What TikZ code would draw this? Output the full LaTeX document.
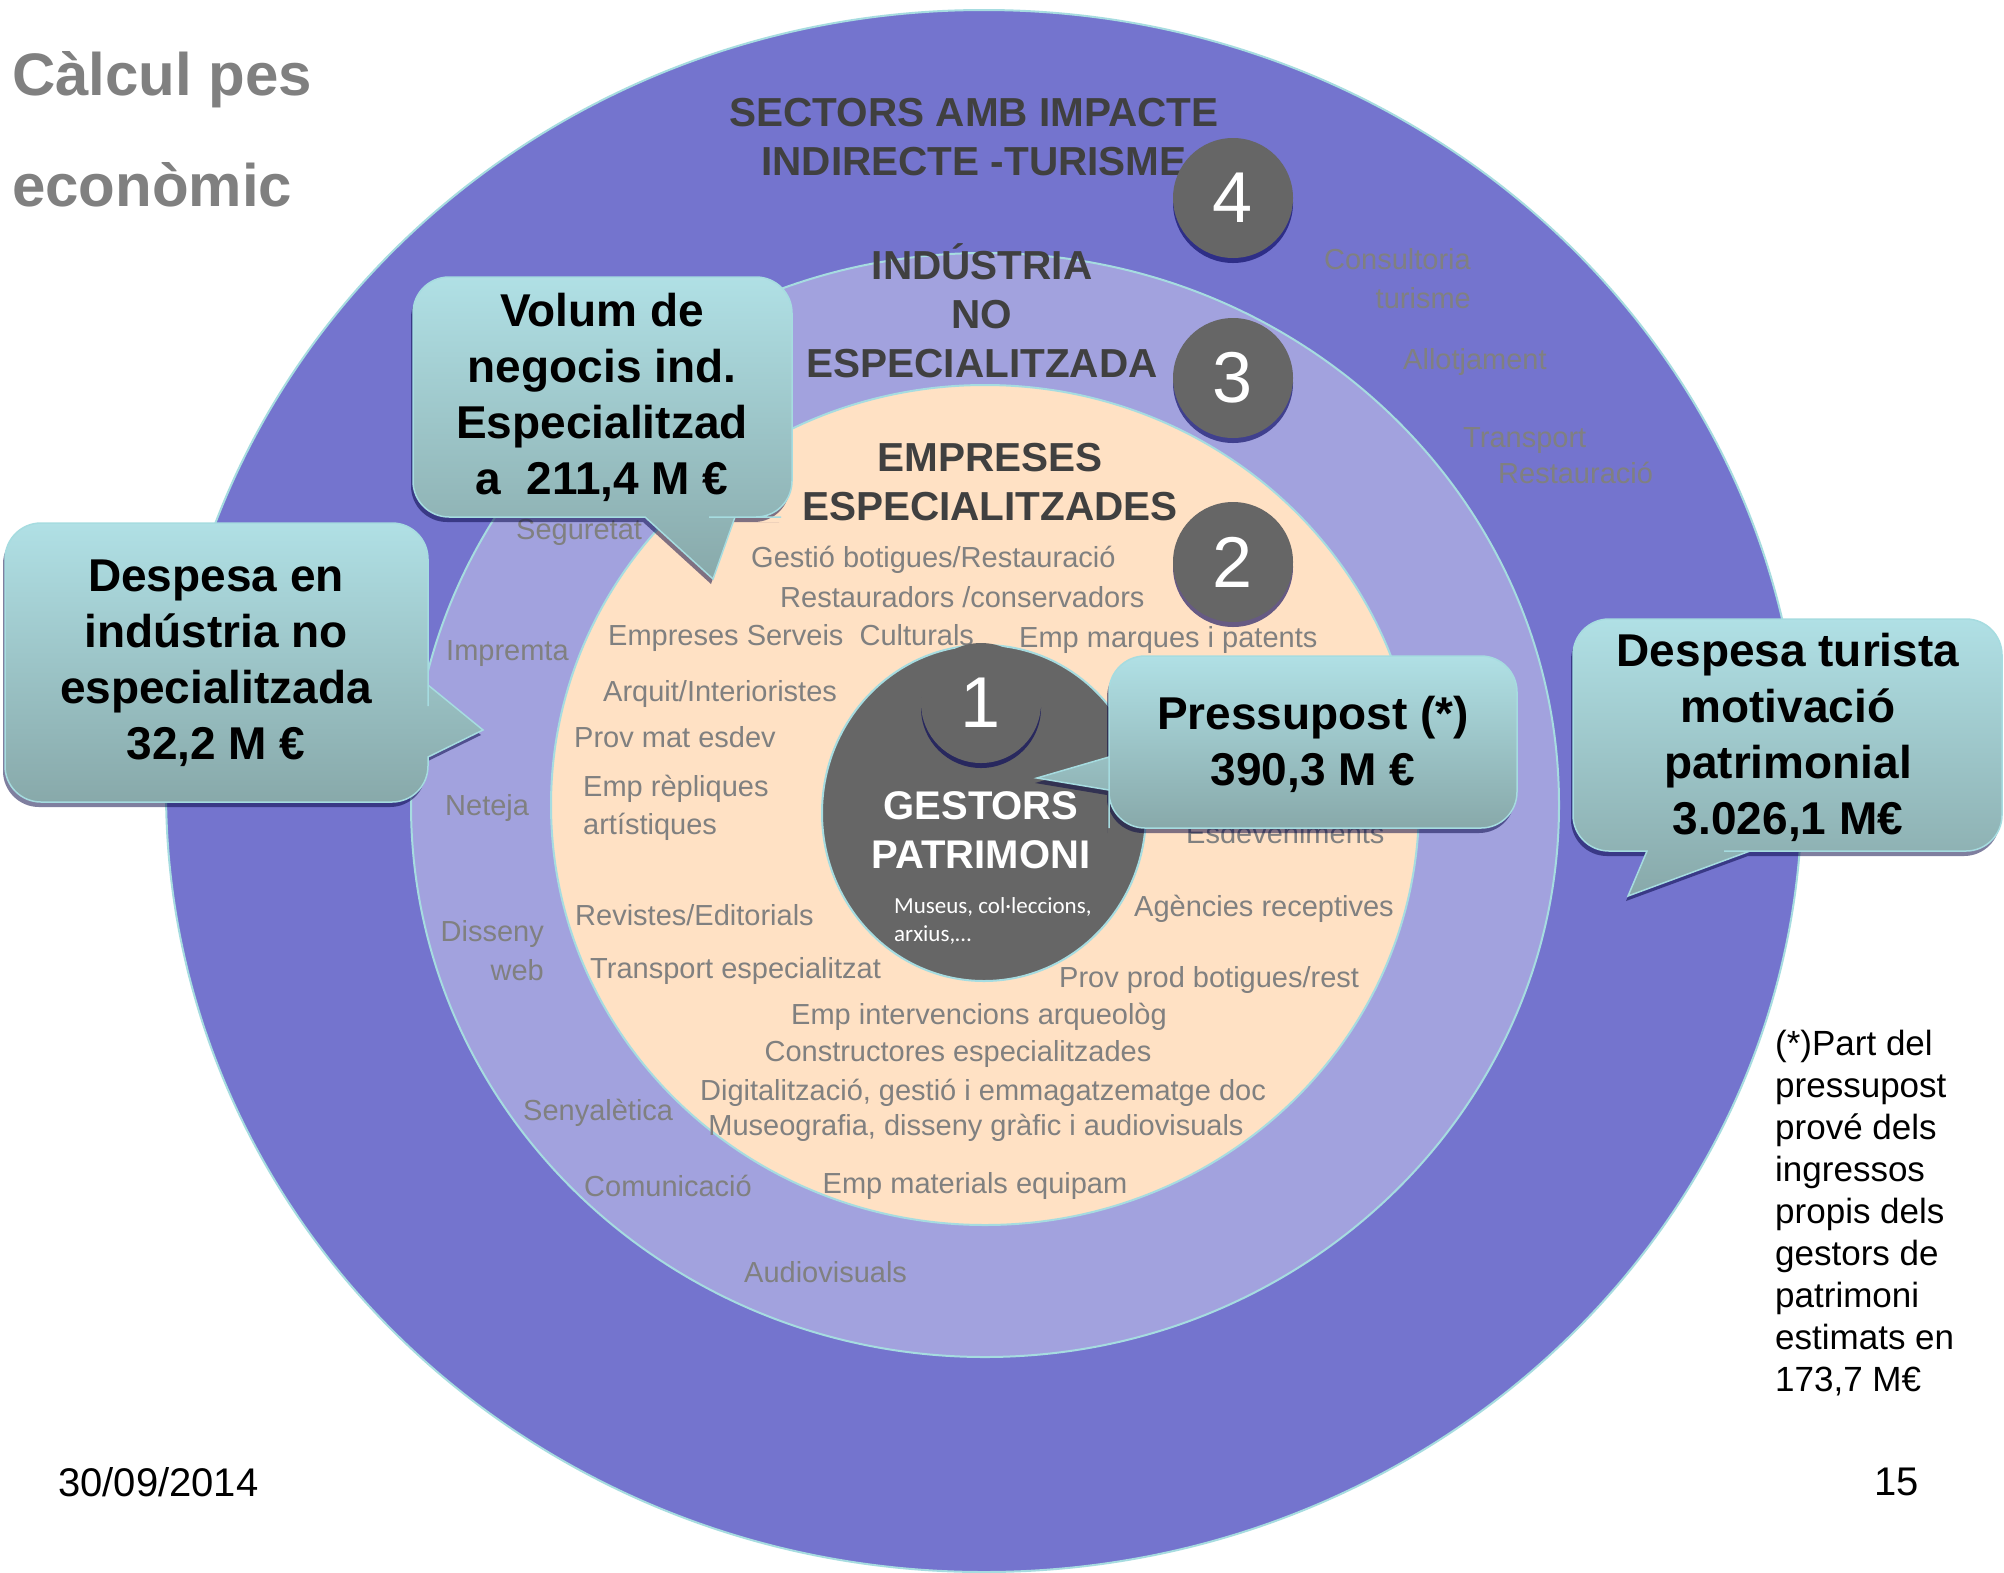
\documentclass[tikz,border=0pt]{standalone}
\usepackage{fontspec}
\setmainfont{Liberation Sans}
\newfontfamily\calib{Carlito}
\usetikzlibrary{shadows}

\definecolor{ringfour}{HTML}{7474CE}
\definecolor{ringthree}{HTML}{A2A2DE}
\definecolor{ringtwo}{HTML}{FFE1C4}
\definecolor{coregray}{HTML}{666666}
\definecolor{rimcyan}{HTML}{A6DCE0}
\definecolor{labelgray}{HTML}{808080}
\definecolor{headgray}{HTML}{404040}
\definecolor{calltop}{HTML}{B0E0E5}
\definecolor{callbot}{HTML}{88A9AA}

\begin{document}
\begin{tikzpicture}[x=1pt,y=-1pt,
  lbl/.style={text=labelgray,font=\fontsize{29}{34}\selectfont,inner sep=0pt},
  hdr/.style={text=headgray,font=\bfseries\fontsize{40.5}{49}\selectfont,align=center,inner sep=0pt},
  bubble/.style={top color=calltop,bottom color=callbot,draw=rimcyan,line width=1.5pt,
    drop shadow={shadow xshift=-2pt,shadow yshift=-5pt,opacity=.5,fill=black!75!blue}},
  bubbletext/.style={font=\bfseries\fontsize{46}{56}\selectfont,align=center,inner sep=0pt},
  numdisc/.style={circle,fill=coregray,minimum size=120pt,inner sep=0pt,text=white,
    font=\fontsize{72}{72}\selectfont,
    drop shadow={shadow xshift=0pt,shadow yshift=-5pt,opacity=.6,fill=black!65!blue}}]

\useasboundingbox (0,0) rectangle (2004,1572);
\fill[white] (0,0) rectangle (2004,1572);

% rings
\filldraw[fill=ringfour,draw=rimcyan,line width=2pt] (984,791) ellipse [x radius=818,y radius=781];
\filldraw[fill=ringthree,draw=rimcyan,line width=2pt] (985,805) ellipse [x radius=574,y radius=552];
\filldraw[fill=ringtwo,draw=rimcyan,line width=2pt] (985,805) ellipse [x radius=434,y radius=420];
\filldraw[fill=coregray,draw=rimcyan,line width=2pt] (984,813) ellipse [x radius=162,y radius=168];

\node[text=labelgray,font=\bfseries\fontsize{60}{60}\selectfont,anchor=west,inner sep=0pt] (titol) at (12,80) {Càlcul pes};
\node[text=labelgray,font=\bfseries\fontsize{60}{60}\selectfont,anchor=west,inner sep=0pt] (titolb) at (12,185) {econòmic};

\node[hdr] (sectors) at (974,137) {SECTORS AMB IMPACTE\\INDIRECTE -TURISME};
\node[hdr] (noesp) at (982,311) {INDÚSTRIA\\NO\\ESPECIALITZADA};
\node[hdr] (esp) at (990,482) {EMPRESES\\ESPECIALITZADES};

\node[text=white,font=\bfseries\fontsize{40}{49}\selectfont,align=center,inner sep=0pt] (gestors) at (981,830) {GESTORS\\PATRIMONI};
\node[text=white,font=\calib\fontsize{23}{28}\selectfont,align=left,anchor=west,inner sep=0pt] (museus) at (894,921) {Museus, col·leccions,\\arxius,…};

% empreses especialitzades
\node[lbl,anchor=west] (gestio) at (751,560) {Gestió botigues/Restauració};
\node[lbl,anchor=west] (restaur) at (780,597) {Restauradors /conservadors};
\node[lbl,anchor=west] (serveis) at (608,638) {Empreses Serveis\ \ Culturals};
\node[lbl,anchor=west] (marques) at (1019,640) {Emp marques i patents};
\node[lbl,anchor=west] (arquit) at (603,694) {Arquit/Interioristes};
\node[lbl,anchor=west] (provmat) at (574,737) {Prov mat esdev};
\node[lbl,anchor=west] (repliq) at (583,789) {Emp rèpliques};
\node[lbl,anchor=west] (artist) at (583,827) {artístiques};
\node[lbl,anchor=west] (esdev) at (1186,833) {Esdeveniments};
\node[lbl,anchor=west] (agencies) at (1134,909) {Agències receptives};
\node[lbl,anchor=west] (revistes) at (575,915) {Revistes/Editorials};
\node[lbl,anchor=west] (transpesp) at (590,971) {Transport especialitzat};
\node[lbl,anchor=west] (provprod) at (1059,980) {Prov prod botigues/rest};
\node[lbl] (arqueo) at (979,1017) {Emp intervencions arqueològ};
\node[lbl] (constr) at (958,1054) {Constructores especialitzades};
\node[lbl] (digit) at (983,1093) {Digitalització, gestió i emmagatzematge doc};
\node[lbl] (museog) at (976,1128) {Museografia, disseny gràfic i audiovisuals};
\node[lbl] (materials) at (975,1186) {Emp materials equipam};

% industria no especialitzada
\node[lbl,anchor=west] (segur) at (516,532) {Seguretat};
\node[lbl,anchor=west] (impremta) at (446,654) {Impremta};
\node[lbl,anchor=west] (neteja) at (445,808) {Neteja};
\node[lbl,anchor=east] (disseny) at (544,934) {Disseny};
\node[lbl,anchor=east] (web) at (544,970) {web};
\node[lbl,anchor=west] (senyal) at (523,1113) {Senyalètica};
\node[lbl,anchor=west] (comunic) at (584,1186) {Comunicació};
\node[lbl,anchor=west] (audiov) at (744,1272) {Audiovisuals};

% turisme
\node[lbl,anchor=east] (consult) at (1471,259) {Consultoria};
\node[lbl,anchor=east] (turisme) at (1471,298) {turisme};
\node[lbl,anchor=west] (allotj) at (1403,362) {Allotjament};
\node[lbl,anchor=west] (transp) at (1463,441) {Transport};
\node[lbl,anchor=west] (restaura) at (1498,473) {Restauració};

\foreach \n/\x/\y in {1/981/703,2/1233/562,3/1233/378,4/1233/198}
  \node[numdisc] (n\n) at (\x,\y) {\n};

% callouts
\shade[bubble] (602,277) [rounded corners=36] -- (792,277) -- (792,517) -- (745,517) [sharp corners] -- (735,517) -- (713,579) -- (645,517) -- (635,517) [rounded corners=36] -- (413,517) -- (413,277) -- cycle;
\node[bubbletext] (volum) at (602,397) {Volum de\\negocis ind.\\Especialitzad\\a\ \ 211,4 M €};

\shade[bubble] (216,523) [rounded corners=36] -- (428,523) -- (428,670) [sharp corners] -- (428,685) -- (483,730) -- (428,757) -- (428,760) [rounded corners=36] -- (428,802) -- (5,802) -- (5,523) -- cycle;
\node[bubbletext] (despind) at (216,663) {Despesa en\\indústria no\\especialitzada\\32,2 M €};

\shade[bubble] (1313,656) [rounded corners=36] -- (1517,656) -- (1517,828) -- (1109,828) -- (1109,792) [sharp corners] -- (1109,790) -- (1037,778) -- (1109,757) -- (1109,750) [rounded corners=36] -- (1109,656) -- cycle;
\node[bubbletext] (press) at (1313,744) {Pressupost (*)\\390,3 M €};

\shade[bubble] (1788,619) [rounded corners=36] -- (2002,619) -- (2002,851) -- (1760,851) [sharp corners] -- (1750,851) -- (1628,896) -- (1647,851) -- (1637,851) [rounded corners=36] -- (1573,851) -- (1573,619) -- cycle;
\node[bubbletext] (desptur) at (1788,737) {Despesa turista\\motivació\\patrimonial\\3.026,1 M€};

\node[anchor=north west,align=left,font=\fontsize{35}{42}\selectfont,inner sep=0pt] (nota) at (1775,1030)
  {(*)Part del\\pressupost\\prové dels\\ingressos\\propis dels\\gestors de\\patrimoni\\estimats en\\173,7 M€};

\node[anchor=west,font=\fontsize{40}{40}\selectfont,inner sep=0pt] (data) at (58,1482) {30/09/2014};
\node[anchor=west,font=\fontsize{40}{40}\selectfont,inner sep=0pt] (pagina) at (1874,1482) {15};
\end{tikzpicture}
\end{document}
